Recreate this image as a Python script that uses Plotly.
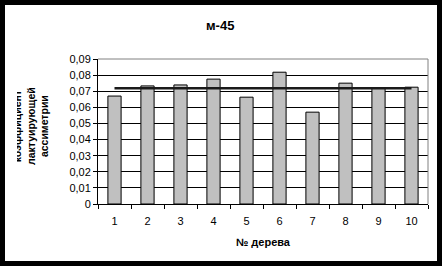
import plotly.graph_objects as go

# ---- data ----
trees = ["1", "2", "3", "4", "5", "6", "7", "8", "9", "10"]
values = [0.067, 0.0733, 0.0739, 0.0775, 0.0663, 0.0818, 0.057, 0.075, 0.0722, 0.0725]
mean_level = 0.0718
y_ticks = [0, 0.01, 0.02, 0.03, 0.04, 0.05, 0.06, 0.07, 0.08, 0.09]
y_ticklabels = ["0", "0,01", "0,02", "0,03", "0,04", "0,05", "0,06", "0,07", "0,08", "0,09"]
title_text = "м-45"
x_title = "№ дерева"
y_title_lines = ["коэффициент", "лактуирующей", "ассиметрии"]

W, H = 442, 266
L, R, T, B = 98, 428, 59, 204  # plot area in pixels


def px(xp):
    return (xp - L) / (R - L)


def py(yp):
    return (B - yp) / (B - T)


FONT = "Liberation Sans, Arial, sans-serif"

fig = go.Figure()
fig.add_trace(go.Bar(
    x=trees, y=values,
    marker=dict(color="#c0c0c0", line=dict(color="black", width=1)),
    width=0.4, showlegend=False, hoverinfo="skip",
))
fig.add_trace(go.Scatter(
    x=[trees[0], trees[-1]], y=[mean_level, mean_level],
    mode="lines", line=dict(color="#1a1a1a", width=2.5),
    showlegend=False, hoverinfo="skip",
))

fig.update_layout(
    width=W, height=H,
    margin=dict(l=L, r=W - R, t=T, b=H - B, pad=0),
    paper_bgcolor="white", plot_bgcolor="white",
    font=dict(family=FONT, size=11, color="black"),
    separators=",.",
    xaxis=dict(
        type="category", tickson="boundaries", range=[-0.5, 9.5],
        showline=True, linecolor="black", linewidth=1,
        ticks="outside", ticklen=4, tickcolor="black", tickwidth=1,
        ticklabelstandoff=7,
        showgrid=False, tickfont=dict(size=11), fixedrange=True,
    ),
    yaxis=dict(
        range=[0, 0.09], tickvals=y_ticks, ticktext=y_ticklabels,
        showline=True, linecolor="black", linewidth=1,
        ticks="outside", ticklen=4, tickcolor="black", tickwidth=1,
        showgrid=True, gridcolor="black", gridwidth=1,
        zeroline=False, tickfont=dict(size=11), fixedrange=True,
    ),
)

shapes = [
    # gray plot-area border (top / right)
    dict(type="line", xref="paper", yref="paper", x0=0, x1=1, y0=1, y1=1,
         line=dict(color="#808080", width=1), layer="above"),
    dict(type="line", xref="paper", yref="paper", x0=1, x1=1, y0=0, y1=1,
         line=dict(color="#808080", width=1), layer="above"),
    # black outer frame
    dict(type="rect", xref="paper", yref="paper",
         x0=px(2.5), x1=px(W - 2.5), y0=py(H - 2.5), y1=py(2.5),
         line=dict(color="black", width=5), fillcolor="rgba(0,0,0,0)", layer="above"),
]
fig.update_layout(shapes=shapes)

annotations = [
    dict(text="<b>" + title_text + "</b>", xref="paper", yref="paper",
         x=px(220), y=py(25), xanchor="center", yanchor="middle",
         showarrow=False, font=dict(size=13)),
    dict(text="<b>" + x_title + "</b>", xref="paper", yref="paper",
         x=px(263), y=py(242), xanchor="center", yanchor="middle",
         showarrow=False, font=dict(size=11)),
    dict(text="<b>" + "<br>".join(y_title_lines) + "</b>", xref="paper", yref="paper",
         x=px(30), y=py(126), xanchor="center", yanchor="middle",
         textangle=-90, showarrow=False, font=dict(size=10.5)),
    # clip strip over the left edge of the y title
    dict(text=" ", xref="paper", yref="paper", x=px(10.75), y=py(126),
         xanchor="center", yanchor="middle", width=11.5, height=120,
         bgcolor="white", borderpad=0, borderwidth=0, showarrow=False),
    dict(text=" ", xref="paper", yref="paper", x=px(2.5), y=py(126),
         xanchor="center", yanchor="middle", width=5, height=120,
         bgcolor="black", borderpad=0, borderwidth=0, showarrow=False),
]
fig.update_layout(annotations=annotations)

fig.write_html("out.html", config={"displayModeBar": False})
